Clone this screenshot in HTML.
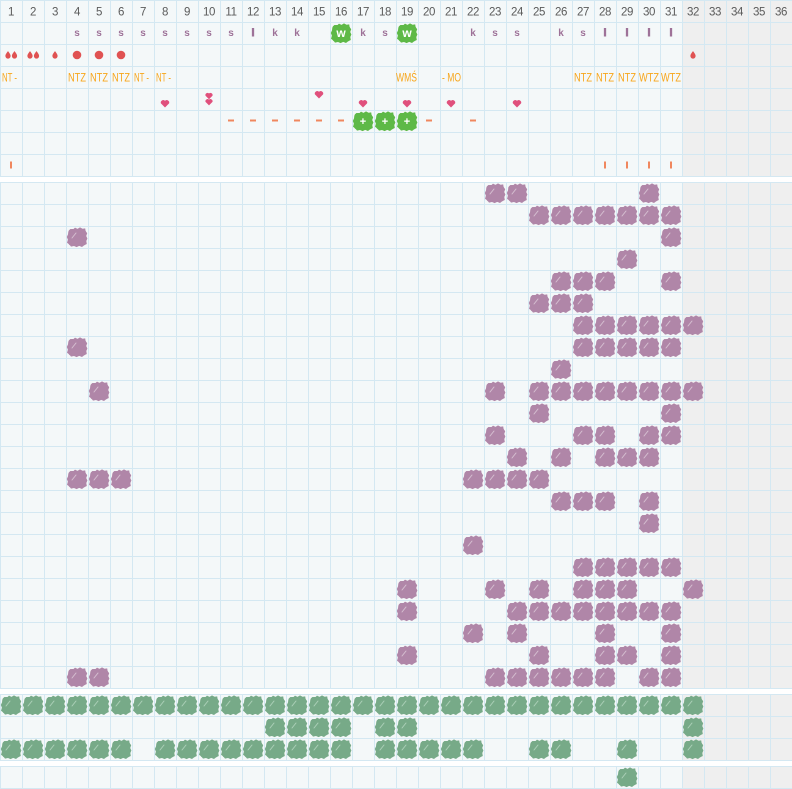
<!DOCTYPE html>
<html><head><meta charset="utf-8"><style>
html,body{margin:0;padding:0;background:#fff;width:792px;height:789px;overflow:hidden}
svg{display:block}
</style></head><body>
<svg xmlns="http://www.w3.org/2000/svg" width="792" height="789" viewBox="0 0 792 789">
<defs>
<pattern id="g" width="22" height="22" patternUnits="userSpaceOnUse"><rect x="0" y="0" width="22" height="1" fill="#d4e8f2"/><rect x="0" y="0" width="1" height="22" fill="#d4e8f2"/></pattern>
<g id="bs"><rect x="2.2" y="3" width="17.8" height="16.8" rx="3.5"/><path d="M2.6,6.5 L4.3,3 L7,3.5 L9,1.6 L11.5,2.9 L14,1.4 L16.6,2.7 L19.2,2.4 L19.6,5 L21.2,7.2 L20.2,10 L21.4,12.5 L20.3,15 L20.8,18 L18.2,19.2 L16,21 L13.2,19.9 L10.6,21.1 L8,20 L5,20.6 L3.4,18.5 L1,16.8 L1.9,13.6 L0.8,11 L2,8.4 Z"/></g>
<g id="P"><use href="#bs" fill="#b086a8"/><path d="M6,12 L10,7" stroke="#d6bfd1" stroke-width="1" stroke-linecap="round"/></g>
<g id="G"><use href="#bs" fill="#77aa88"/><path d="M6,12 L10,7" stroke="#acd0b8" stroke-width="1" stroke-linecap="round"/></g>
<g id="L"><use href="#bs" fill="#5eb947"/></g>
<path id="h" d="M0,4 L-4.1,-0.1 A2.5,2.5 0 0 1 0,-2.7 A2.5,2.5 0 0 1 4.1,-0.1 Z"/>
<path id="d" d="M0,-4 C0.9,-2.5 2.6,-0.9 2.6,1 A2.6,2.6 0 0 1 -2.6,1 C-2.6,-0.9 -0.9,-2.5 0,-4 Z"/>
</defs>

<g><rect width="682" height="177" fill="#f4f8f9"/><rect x="682" width="110" height="177" fill="#efefef"/><rect width="792" height="177" fill="url(#g)"/></g>
<g transform="translate(0,182)"><rect width="682" height="507" fill="#f4f8f9"/><rect x="682" width="110" height="507" fill="#efefef"/><rect width="792" height="507" fill="url(#g)"/></g>
<g transform="translate(0,694)"><rect width="682" height="67" fill="#f4f8f9"/><rect x="682" width="110" height="67" fill="#efefef"/><rect width="792" height="67" fill="url(#g)"/></g>
<g transform="translate(0,766)"><rect width="682" height="23" fill="#f4f8f9"/><rect x="682" width="110" height="23" fill="#efefef"/><rect width="792" height="23" fill="url(#g)"/></g>

<g font-family="Liberation Sans, sans-serif" font-size="11.5" fill="#5a5a5a" text-anchor="middle" letter-spacing="-0.4">
<text x="11" y="15.5">1</text><text x="33" y="15.5">2</text><text x="55" y="15.5">3</text><text x="77" y="15.5">4</text><text x="99" y="15.5">5</text><text x="121" y="15.5">6</text><text x="143" y="15.5">7</text><text x="165" y="15.5">8</text><text x="187" y="15.5">9</text><text x="209" y="15.5">10</text><text x="231" y="15.5">11</text><text x="253" y="15.5">12</text><text x="275" y="15.5">13</text><text x="297" y="15.5">14</text><text x="319" y="15.5">15</text><text x="341" y="15.5">16</text><text x="363" y="15.5">17</text><text x="385" y="15.5">18</text><text x="407" y="15.5">19</text><text x="429" y="15.5">20</text><text x="451" y="15.5">21</text><text x="473" y="15.5">22</text><text x="495" y="15.5">23</text><text x="517" y="15.5">24</text><text x="539" y="15.5">25</text><text x="561" y="15.5">26</text><text x="583" y="15.5">27</text><text x="605" y="15.5">28</text><text x="627" y="15.5">29</text><text x="649" y="15.5">30</text><text x="671" y="15.5">31</text><text x="693" y="15.5">32</text><text x="715" y="15.5">33</text><text x="737" y="15.5">34</text><text x="759" y="15.5">35</text><text x="781" y="15.5">36</text>
</g>

<use href="#L" x="330" y="22"/><use href="#L" x="396" y="22"/>
<g font-family="Liberation Sans, sans-serif" font-size="10" font-weight="bold" fill="#9e7298" text-anchor="middle">
<text x="77" y="36">s</text><text x="99" y="36">s</text><text x="121" y="36">s</text><text x="143" y="36">s</text><text x="165" y="36">s</text><text x="187" y="36">s</text><text x="209" y="36">s</text><text x="231" y="36">s</text>
<text x="253" y="36" stroke="#9e7298" stroke-width="0.9">l</text>
<text x="275" y="36">k</text><text x="297" y="36">k</text><text x="363" y="36">k</text><text x="385" y="36">s</text>
<text x="473" y="36">k</text><text x="495" y="36">s</text><text x="517" y="36">s</text><text x="561" y="36">k</text><text x="583" y="36">s</text>
<text x="605" y="36" stroke="#9e7298" stroke-width="0.9">l</text><text x="627" y="36" stroke="#9e7298" stroke-width="0.9">l</text><text x="649" y="36" stroke="#9e7298" stroke-width="0.9">l</text><text x="671" y="36" stroke="#9e7298" stroke-width="0.9">l</text>
</g>
<g font-family="Liberation Sans, sans-serif" font-size="12" font-weight="bold" fill="#ffffff" text-anchor="middle">
<text x="341" y="37">w</text><text x="407" y="37">w</text>
</g>

<g fill="#e05252">
<use href="#d" x="8" y="55"/><use href="#d" x="14.5" y="55"/>
<use href="#d" x="30" y="55"/><use href="#d" x="36.5" y="55"/>
<use href="#d" x="55" y="55"/>
<circle cx="77" cy="55" r="4.3"/><circle cx="99" cy="55" r="4.3"/><circle cx="121" cy="55" r="4.3"/>
<use href="#d" x="693" y="55"/>
</g>

<g font-family="Liberation Sans, sans-serif" font-size="11.5" fill="#f7a61c">
<text x="2" y="81.5" textLength="15" lengthAdjust="spacingAndGlyphs">NT -</text>
<text x="68" y="81.5" textLength="18" lengthAdjust="spacingAndGlyphs">NTZ</text>
<text x="90" y="81.5" textLength="18" lengthAdjust="spacingAndGlyphs">NTZ</text>
<text x="112" y="81.5" textLength="18" lengthAdjust="spacingAndGlyphs">NTZ</text>
<text x="134" y="81.5" textLength="15" lengthAdjust="spacingAndGlyphs">NT -</text>
<text x="156" y="81.5" textLength="15" lengthAdjust="spacingAndGlyphs">NT -</text>
<text x="396" y="81.5" textLength="21" lengthAdjust="spacingAndGlyphs">WMŚ</text>
<text x="442" y="81.5" textLength="19" lengthAdjust="spacingAndGlyphs">- MO</text>
<text x="574" y="81.5" textLength="18" lengthAdjust="spacingAndGlyphs">NTZ</text>
<text x="596" y="81.5" textLength="18" lengthAdjust="spacingAndGlyphs">NTZ</text>
<text x="618" y="81.5" textLength="18" lengthAdjust="spacingAndGlyphs">NTZ</text>
<text x="639" y="81.5" textLength="20" lengthAdjust="spacingAndGlyphs">WTZ</text>
<text x="661" y="81.5" textLength="20" lengthAdjust="spacingAndGlyphs">WTZ</text>
</g>

<g fill="#e0507c">
<use href="#h" x="165" y="103.5"/>
<g transform="translate(209,95.8) scale(0.85)"><use href="#h"/></g>
<g transform="translate(209,102) scale(0.85)"><use href="#h"/></g>
<use href="#h" x="319" y="94.5"/>
<use href="#h" x="363" y="103.5"/><use href="#h" x="407" y="103.5"/><use href="#h" x="451" y="103.5"/><use href="#h" x="517" y="103.5"/>
</g>

<g fill="#f0875e">
<rect x="228" y="119.5" width="6" height="2"/><rect x="250" y="119.5" width="6" height="2"/><rect x="272" y="119.5" width="6" height="2"/><rect x="294" y="119.5" width="6" height="2"/><rect x="316" y="119.5" width="6" height="2"/><rect x="338" y="119.5" width="6" height="2"/><rect x="426" y="119.5" width="6" height="2"/><rect x="470" y="119.5" width="6" height="2"/>
</g>
<use href="#L" x="352" y="110"/><use href="#L" x="374" y="110"/><use href="#L" x="396" y="110"/>
<g font-family="Liberation Sans, sans-serif" font-size="11" font-weight="bold" fill="#ffffff" text-anchor="middle">
<text x="363" y="125">+</text><text x="385" y="125">+</text><text x="407" y="125">+</text>
</g>

<g fill="#f0875e">
<rect x="10" y="161.5" width="2" height="7"/><rect x="604" y="161.5" width="2" height="7"/><rect x="626" y="161.5" width="2" height="7"/><rect x="648" y="161.5" width="2" height="7"/><rect x="670" y="161.5" width="2" height="7"/>
</g>

<use href="#P" x="484" y="182"/><use href="#P" x="506" y="182"/><use href="#P" x="638" y="182"/>
<use href="#P" x="528" y="204"/><use href="#P" x="550" y="204"/><use href="#P" x="572" y="204"/><use href="#P" x="594" y="204"/><use href="#P" x="616" y="204"/><use href="#P" x="638" y="204"/><use href="#P" x="660" y="204"/>
<use href="#P" x="66" y="226"/><use href="#P" x="660" y="226"/>
<use href="#P" x="616" y="248"/>
<use href="#P" x="550" y="270"/><use href="#P" x="572" y="270"/><use href="#P" x="594" y="270"/><use href="#P" x="660" y="270"/>
<use href="#P" x="528" y="292"/><use href="#P" x="550" y="292"/><use href="#P" x="572" y="292"/>
<use href="#P" x="572" y="314"/><use href="#P" x="594" y="314"/><use href="#P" x="616" y="314"/><use href="#P" x="638" y="314"/><use href="#P" x="660" y="314"/><use href="#P" x="682" y="314"/>
<use href="#P" x="66" y="336"/><use href="#P" x="572" y="336"/><use href="#P" x="594" y="336"/><use href="#P" x="616" y="336"/><use href="#P" x="638" y="336"/><use href="#P" x="660" y="336"/>
<use href="#P" x="550" y="358"/>
<use href="#P" x="88" y="380"/><use href="#P" x="484" y="380"/><use href="#P" x="528" y="380"/><use href="#P" x="550" y="380"/><use href="#P" x="572" y="380"/><use href="#P" x="594" y="380"/><use href="#P" x="616" y="380"/><use href="#P" x="638" y="380"/><use href="#P" x="660" y="380"/><use href="#P" x="682" y="380"/>
<use href="#P" x="528" y="402"/><use href="#P" x="660" y="402"/>
<use href="#P" x="484" y="424"/><use href="#P" x="572" y="424"/><use href="#P" x="594" y="424"/><use href="#P" x="638" y="424"/><use href="#P" x="660" y="424"/>
<use href="#P" x="506" y="446"/><use href="#P" x="550" y="446"/><use href="#P" x="594" y="446"/><use href="#P" x="616" y="446"/><use href="#P" x="638" y="446"/>
<use href="#P" x="66" y="468"/><use href="#P" x="88" y="468"/><use href="#P" x="110" y="468"/><use href="#P" x="462" y="468"/><use href="#P" x="484" y="468"/><use href="#P" x="506" y="468"/><use href="#P" x="528" y="468"/>
<use href="#P" x="550" y="490"/><use href="#P" x="572" y="490"/><use href="#P" x="594" y="490"/><use href="#P" x="638" y="490"/>
<use href="#P" x="638" y="512"/>
<use href="#P" x="462" y="534"/>
<use href="#P" x="572" y="556"/><use href="#P" x="594" y="556"/><use href="#P" x="616" y="556"/><use href="#P" x="638" y="556"/><use href="#P" x="660" y="556"/>
<use href="#P" x="396" y="578"/><use href="#P" x="484" y="578"/><use href="#P" x="528" y="578"/><use href="#P" x="572" y="578"/><use href="#P" x="594" y="578"/><use href="#P" x="616" y="578"/><use href="#P" x="682" y="578"/>
<use href="#P" x="396" y="600"/><use href="#P" x="506" y="600"/><use href="#P" x="528" y="600"/><use href="#P" x="550" y="600"/><use href="#P" x="572" y="600"/><use href="#P" x="594" y="600"/><use href="#P" x="616" y="600"/><use href="#P" x="638" y="600"/><use href="#P" x="660" y="600"/>
<use href="#P" x="462" y="622"/><use href="#P" x="506" y="622"/><use href="#P" x="594" y="622"/><use href="#P" x="660" y="622"/>
<use href="#P" x="396" y="644"/><use href="#P" x="528" y="644"/><use href="#P" x="594" y="644"/><use href="#P" x="616" y="644"/><use href="#P" x="660" y="644"/>
<use href="#P" x="66" y="666"/><use href="#P" x="88" y="666"/><use href="#P" x="484" y="666"/><use href="#P" x="506" y="666"/><use href="#P" x="528" y="666"/><use href="#P" x="550" y="666"/><use href="#P" x="572" y="666"/><use href="#P" x="594" y="666"/><use href="#P" x="638" y="666"/><use href="#P" x="660" y="666"/>

<use href="#G" x="0" y="694"/><use href="#G" x="22" y="694"/><use href="#G" x="44" y="694"/><use href="#G" x="66" y="694"/><use href="#G" x="88" y="694"/><use href="#G" x="110" y="694"/><use href="#G" x="132" y="694"/><use href="#G" x="154" y="694"/><use href="#G" x="176" y="694"/><use href="#G" x="198" y="694"/><use href="#G" x="220" y="694"/><use href="#G" x="242" y="694"/><use href="#G" x="264" y="694"/><use href="#G" x="286" y="694"/><use href="#G" x="308" y="694"/><use href="#G" x="330" y="694"/><use href="#G" x="352" y="694"/><use href="#G" x="374" y="694"/><use href="#G" x="396" y="694"/><use href="#G" x="418" y="694"/><use href="#G" x="440" y="694"/><use href="#G" x="462" y="694"/><use href="#G" x="484" y="694"/><use href="#G" x="506" y="694"/><use href="#G" x="528" y="694"/><use href="#G" x="550" y="694"/><use href="#G" x="572" y="694"/><use href="#G" x="594" y="694"/><use href="#G" x="616" y="694"/><use href="#G" x="638" y="694"/><use href="#G" x="660" y="694"/><use href="#G" x="682" y="694"/>
<use href="#G" x="264" y="716"/><use href="#G" x="286" y="716"/><use href="#G" x="308" y="716"/><use href="#G" x="330" y="716"/><use href="#G" x="374" y="716"/><use href="#G" x="396" y="716"/><use href="#G" x="682" y="716"/>
<use href="#G" x="0" y="738"/><use href="#G" x="22" y="738"/><use href="#G" x="44" y="738"/><use href="#G" x="66" y="738"/><use href="#G" x="88" y="738"/><use href="#G" x="110" y="738"/><use href="#G" x="154" y="738"/><use href="#G" x="176" y="738"/><use href="#G" x="198" y="738"/><use href="#G" x="220" y="738"/><use href="#G" x="242" y="738"/><use href="#G" x="264" y="738"/><use href="#G" x="286" y="738"/><use href="#G" x="308" y="738"/><use href="#G" x="330" y="738"/><use href="#G" x="374" y="738"/><use href="#G" x="396" y="738"/><use href="#G" x="418" y="738"/><use href="#G" x="440" y="738"/><use href="#G" x="462" y="738"/><use href="#G" x="528" y="738"/><use href="#G" x="550" y="738"/><use href="#G" x="616" y="738"/><use href="#G" x="682" y="738"/>

<use href="#G" x="616" y="766"/>
</svg>
</body></html>
